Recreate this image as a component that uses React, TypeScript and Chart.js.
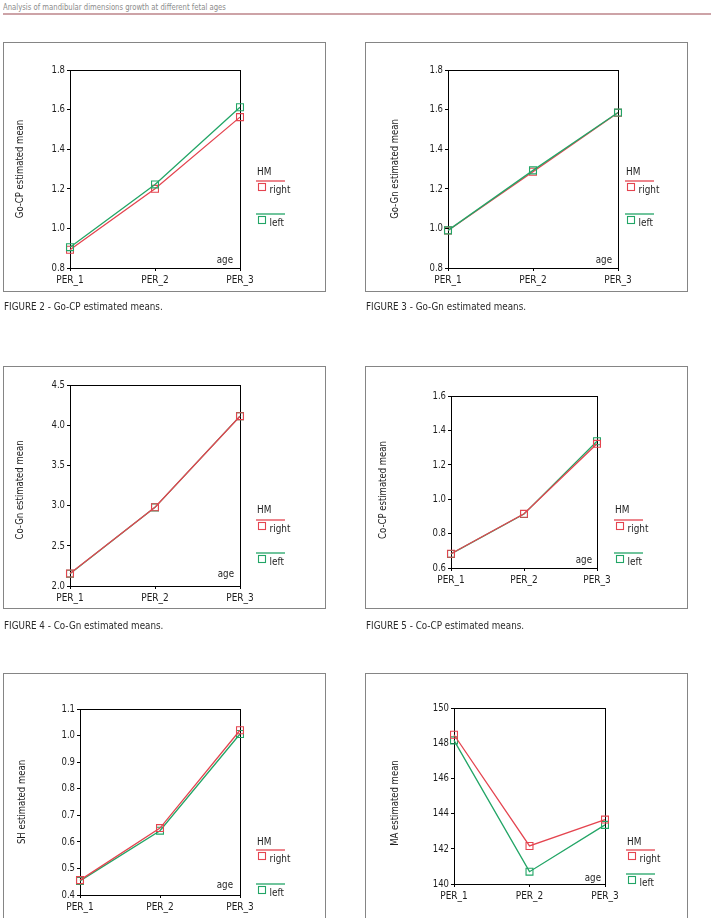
import React, { useEffect, useRef } from "react";
import { Chart, registerables } from "chart.js";

Chart.register(...registerables);

// ---- data ----
const periods = ["PER_1", "PER_2", "PER_3"];

const goCpRight = [0.892, 1.2, 1.562];
const goCpLeft = [0.905, 1.222, 1.612];

const goGnRight = [0.989, 1.286, 1.584];
const goGnLeft = [0.99, 1.293, 1.585];

const coGnRight = [2.155, 2.979, 4.112];
const coGnLeft = [2.153, 2.978, 4.113];

const coCpRight = [0.683, 0.915, 1.322];
const coCpLeft = [0.682, 0.914, 1.337];

const shRight = [0.456, 0.652, 1.02];
const shLeft = [0.453, 0.642, 1.006];

const maRight = [148.48, 142.16, 143.66];
const maLeft = [148.16, 140.7, 143.36];

const seriesNames = ["right", "left"];
const legendTitle = "HM";
const xAxisName = "age";

const headerText = "Analysis of mandibular dimensions growth at different fetal ages";

// ---- styling ----
const FONT = '"DejaVu Sans Condensed", "Liberation Sans Narrow", sans-serif';
const RED = "#e4444f";
const GREEN = "#22a566";
const TEXT = "#1e1e1e";

type Box = { x: number; y: number; w: number; h: number };
type Area = { l: number; t: number; r: number; b: number };

interface PanelSpec {
  title: string;
  caption?: string;
  right: number[];
  left: number[];
  min: number;
  max: number;
  step: number;
  decimals: number;
  box: Box;
  area: Area;
  titleX: number;
  titleY: number;
  legendX: number;
  hmY: number;
  redY: number;
  greenY: number;
  ageDx: number;
  ageDy: number;
  greenOnTop: boolean;
  captionPos?: { x: number; y: number };
}

const panels: PanelSpec[] = [
  {
    title: "Go-CP estimated mean",
    caption: "FIGURE 2 - Go-CP estimated means.",
    right: goCpRight, left: goCpLeft, min: 0.8, max: 1.8, step: 0.2, decimals: 1,
    box: { x: 4, y: 43, w: 321, h: 248 },
    area: { l: 70, t: 70, r: 240, b: 268 },
    titleX: 20, titleY: 169,
    legendX: 256, hmY: 172, redY: 181, greenY: 214,
    ageDx: 7, ageDy: 8, greenOnTop: true,
    captionPos: { x: 4, y: 306 },
  },
  {
    title: "Go-Gn estimated mean",
    caption: "FIGURE 3 - Go-Gn estimated means.",
    right: goGnRight, left: goGnLeft, min: 0.8, max: 1.8, step: 0.2, decimals: 1,
    box: { x: 366, y: 43, w: 321, h: 248 },
    area: { l: 448, t: 70, r: 618, b: 268 },
    titleX: 395, titleY: 169,
    legendX: 625, hmY: 172, redY: 181, greenY: 214,
    ageDx: 6, ageDy: 8, greenOnTop: true,
    captionPos: { x: 366, y: 306 },
  },
  {
    title: "Co-Gn estimated mean",
    caption: "FIGURE 4 - Co-Gn estimated means.",
    right: coGnRight, left: coGnLeft, min: 2.0, max: 4.5, step: 0.5, decimals: 1,
    box: { x: 4, y: 367, w: 321, h: 241 },
    area: { l: 70, t: 385, r: 240, b: 586 },
    titleX: 20, titleY: 490,
    legendX: 256, hmY: 510, redY: 520, greenY: 553,
    ageDx: 6, ageDy: 12, greenOnTop: false,
    captionPos: { x: 4, y: 625 },
  },
  {
    title: "Co-CP estimated mean",
    caption: "FIGURE 5 - Co-CP estimated means.",
    right: coCpRight, left: coCpLeft, min: 0.6, max: 1.6, step: 0.2, decimals: 1,
    box: { x: 366, y: 367, w: 321, h: 241 },
    area: { l: 451, t: 396, r: 597, b: 568 },
    titleX: 383, titleY: 490,
    legendX: 614, hmY: 510, redY: 520, greenY: 553,
    ageDx: 5, ageDy: 8, greenOnTop: false,
    captionPos: { x: 366, y: 625 },
  },
  {
    title: "SH estimated mean",
    right: shRight, left: shLeft, min: 0.4, max: 1.1, step: 0.1, decimals: 1,
    box: { x: 4, y: 674, w: 321, h: 260 },
    area: { l: 80, t: 709, r: 240, b: 895 },
    titleX: 22, titleY: 802,
    legendX: 256, hmY: 842, redY: 850, greenY: 884,
    ageDx: 7, ageDy: 10, greenOnTop: false,
  },
  {
    title: "MA estimated mean",
    right: maRight, left: maLeft, min: 140, max: 150, step: 2, decimals: 0,
    box: { x: 366, y: 674, w: 321, h: 260 },
    area: { l: 454, t: 708, r: 605, b: 884 },
    titleX: 395, titleY: 803,
    legendX: 626, hmY: 842, redY: 850, greenY: 874,
    ageDx: 4, ageDy: 6, greenOnTop: false,
  },
];

const Y_AXIS_W = 30;
const X_AXIS_H = 20;

// Draws a condensed text run: the glyphs are squeezed horizontally by sx.
function drawText(
  ctx: CanvasRenderingContext2D,
  s: string,
  x: number,
  y: number,
  size: number,
  align: CanvasTextAlign,
  sx = 1,
  rotate = 0
) {
  ctx.save();
  ctx.translate(x, y);
  if (rotate) ctx.rotate(rotate);
  ctx.scale(sx, 1);
  ctx.font = `${size}px ${FONT}`;
  ctx.fillStyle = TEXT;
  ctx.textAlign = align;
  ctx.textBaseline = "middle";
  ctx.fillText(s, 0, 0);
  ctx.restore();
}

function makeDecor(p: PanelSpec) {
  const ox = p.box.x;
  const oy = p.box.y;
  const legendItem = (ctx: CanvasRenderingContext2D, color: string, label: string, ly: number) => {
    const lx = p.legendX - ox;
    const y = ly - oy;
    ctx.save();
    ctx.strokeStyle = color;
    ctx.lineWidth = 1.3;
    ctx.beginPath();
    ctx.moveTo(lx, y);
    ctx.lineTo(lx + 29, y);
    ctx.stroke();
    ctx.lineWidth = 1.1;
    ctx.strokeRect(lx + 2.5, y + 2.5, 7, 7);
    ctx.restore();
    drawText(ctx, label, lx + 13.5, y + 9.5, 11, "left", 0.9);
  };
  return {
    id: "decor",
    beforeDatasetsDraw(chart: any) {
      const { left, top, right, bottom } = chart.chartArea;
      const ctx = chart.ctx as CanvasRenderingContext2D;
      ctx.save();
      ctx.strokeStyle = "#000";
      ctx.lineWidth = 1;
      ctx.strokeRect(Math.round(left) + 0.5, Math.round(top) + 0.5, Math.round(right - left), Math.round(bottom - top));
      ctx.restore();
    },
    afterDraw(chart: any) {
      const ctx = chart.ctx as CanvasRenderingContext2D;
      const { left, right, bottom } = chart.chartArea;
      const xs = chart.scales.x;
      const ys = chart.scales.y;
      // tick labels, taken from the chart's own scales
      ys.ticks.forEach((t: any) => {
        drawText(ctx, Number(t.value).toFixed(p.decimals), left - 5, ys.getPixelForValue(t.value), 10.5, "right", 0.9);
      });
      xs.ticks.forEach((_t: any, i: number) => {
        drawText(ctx, String(xs.getLabelForValue(i)), xs.getPixelForTick(i), bottom + 12, 10.5, "center", 0.95);
      });
      // axis title, rotated
      drawText(ctx, p.title, p.titleX - ox, p.titleY - oy, 10.5, "center", 0.9, -Math.PI / 2);
      drawText(ctx, xAxisName, right - p.ageDx, bottom - p.ageDy, 11, "right", 0.88);
      drawText(ctx, legendTitle, p.legendX - ox + 1, p.hmY - oy, 11, "left", 0.9);
      legendItem(ctx, RED, seriesNames[0], p.redY);
      legendItem(ctx, GREEN, seriesNames[1], p.greenY);
    },
  };
}

function Panel({ p }: { p: PanelSpec }) {
  const ref = useRef<HTMLCanvasElement | null>(null);
  useEffect(() => {
    if (!ref.current) return;
    const ds = (data: number[], color: string, order: number) => ({
      data,
      borderColor: color,
      backgroundColor: color,
      borderWidth: 1.3,
      pointStyle: "rect" as const,
      pointRadius: 4.9,
      pointHoverRadius: 4.9,
      pointBorderColor: color,
      pointBackgroundColor: "rgba(0,0,0,0)",
      pointBorderWidth: 1.1,
      tension: 0,
      fill: false,
      clip: false as const,
      order,
    });
    const pad = {
      left: p.area.l - p.box.x - Y_AXIS_W,
      top: p.area.t - p.box.y,
      right: p.box.x + p.box.w - p.area.r,
      bottom: p.box.y + p.box.h - p.area.b - X_AXIS_H,
    };
    const chart = new Chart(ref.current, {
      type: "line",
      data: {
        labels: periods,
        datasets: [
          { label: seriesNames[0], ...ds(p.right, RED, p.greenOnTop ? 1 : 0) },
          { label: seriesNames[1], ...ds(p.left, GREEN, p.greenOnTop ? 0 : 1) },
        ],
      },
      options: {
        responsive: false,
        animation: false,
        devicePixelRatio: 1,
        layout: { padding: pad },
        plugins: { legend: { display: false }, tooltip: { enabled: false }, title: { display: false } },
        scales: {
          x: {
            type: "category",
            offset: false,
            grid: { drawOnChartArea: false, drawTicks: true, tickLength: 3, color: "#000" },
            border: { display: true, color: "#000", width: 1 },
            ticks: { display: false, autoSkip: false, maxRotation: 0 },
            afterFit: (s: any) => { s.height = X_AXIS_H; },
          },
          y: {
            type: "linear",
            min: p.min,
            max: p.max,
            grid: { drawOnChartArea: false, drawTicks: true, tickLength: 3, color: "#000" },
            border: { display: true, color: "#000", width: 1 },
            ticks: { display: false, stepSize: p.step },
            afterFit: (s: any) => { s.width = Y_AXIS_W; },
          },
        },
      },
      plugins: [makeDecor(p)],
    } as any);
    return () => chart.destroy();
  }, [p]);

  return (
    <>
      <canvas
        ref={ref}
        width={p.box.w}
        height={p.box.h}
        style={{ position: "absolute", left: p.box.x, top: p.box.y, width: p.box.w, height: p.box.h, display: "block" }}
      />
      <div
        style={{
          position: "absolute",
          left: p.box.x - 1,
          top: p.box.y - 1,
          width: p.box.w + 2,
          height: p.box.h + 2,
          boxSizing: "border-box",
          border: "1.5px solid #858585",
          pointerEvents: "none",
        }}
      />
      {p.caption && p.captionPos && (
        <div
          style={{
            position: "absolute",
            left: p.captionPos.x,
            top: p.captionPos.y - 8,
            height: 16,
            lineHeight: "16px",
            fontFamily: FONT,
            fontSize: 10.5,
            color: "#2a2a2a",
            whiteSpace: "nowrap",
            transform: "scaleX(0.93)",
            transformOrigin: "left center",
          }}
        >
          {p.caption}
        </div>
      )}
    </>
  );
}

export default function App() {
  return (
    <div
      style={{
        position: "fixed",
        left: 0,
        top: 0,
        width: 711,
        height: 918,
        overflow: "hidden",
        background: "#fff",
      }}
    >
      <div
        style={{
          position: "absolute",
          left: 3,
          top: 1,
          height: 12,
          lineHeight: "12px",
          fontFamily: FONT,
          fontSize: 8.5,
          color: "#8c8c8c",
          whiteSpace: "nowrap",
          transform: "scaleX(0.9)",
          transformOrigin: "left center",
        }}
      >
        {headerText}
      </div>
      <div style={{ position: "absolute", left: 3, top: 13, width: 708, height: 2, background: "#cda3a7" }} />
      {panels.map((p, i) => (
        <Panel key={i} p={p} />
      ))}
    </div>
  );
}
